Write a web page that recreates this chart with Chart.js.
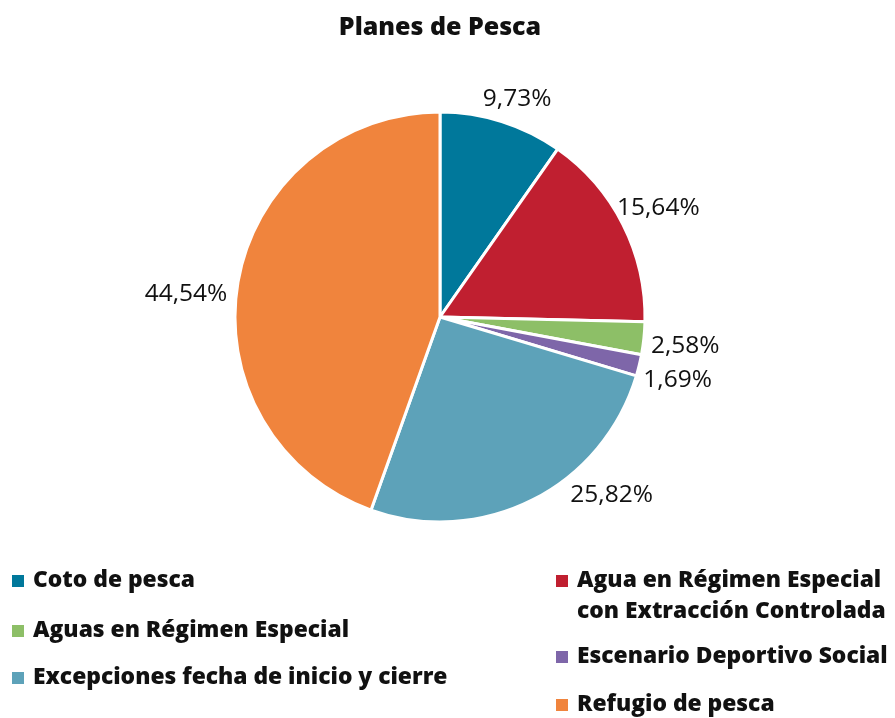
<!DOCTYPE html>
<html>
<head>
<meta charset="utf-8">
<script src="https://cdn.jsdelivr.net/npm/chart.js@4.4.1/dist/chart.umd.min.js"></script>
<style>
  html, body { margin: 0; padding: 0; background: #fff; }
  #wrap { width: 895px; height: 718px; position: relative; }
</style>
</head>
<body>
<div id="wrap"><canvas id="c" width="895" height="718"></canvas></div>
<script>
// Planes de Pesca: share of each fishing plan type (%)
const categories = [
  'Coto de pesca',
  ['Agua en Régimen Especial', 'con Extracción Controlada'],
  'Aguas en Régimen Especial',
  'Escenario Deportivo Social',
  'Excepciones fecha de inicio y cierre',
  'Refugio de pesca'
];
const shares = [9.73, 15.64, 2.58, 1.69, 25.82, 44.54];
const sliceColors = ['#00789b', '#c01f30', '#8dbf67', '#7e66a9', '#5da2b9', '#f0843d'];

const FONT = '"Open Sans", "DejaVu Sans", sans-serif';

// Percent labels: angle shift (deg) from slice middle and distance beyond the rim
const labelPlacement = [
  { dAngle: 2.0,   dist: 26 },
  { dAngle: 0.3,   dist: 39 },
  { dAngle: 0.8,   dist: 42 },
  { dAngle: 1.3,   dist: 41 },
  { dAngle: -17.2, dist: 42 },
  { dAngle: -4.6,  dist: 50 }
];

// Legend slots: [x of marker, y of first text line]
const legendSlots = [
  [12, 581], [556, 581], [12, 631], [556, 657], [12, 678], [556, 705]
];

const fmt = v => v.toFixed(2).replace('.', ',') + '%';

const titlePlugin = {
  id: 'titleText',
  afterDraw(chart) {
    const ctx = chart.ctx;
    ctx.save();
    ctx.fillStyle = '#111';
    ctx.font = '800 25px ' + FONT;
    ctx.textAlign = 'center';
    ctx.textBaseline = 'middle';
    ctx.fillText('Planes de Pesca', 440, 28);
    ctx.restore();
  }
};

const sliceLabels = {
  id: 'sliceLabels',
  afterDatasetsDraw(chart) {
    const ctx = chart.ctx;
    const meta = chart.getDatasetMeta(0);
    const values = chart.data.datasets[0].data;
    ctx.save();
    ctx.fillStyle = '#111';
    ctx.font = '24.5px ' + FONT;
    ctx.textAlign = 'center';
    ctx.textBaseline = 'middle';
    meta.data.forEach((arc, i) => {
      const p = labelPlacement[i];
      const mid = (arc.startAngle + arc.endAngle) / 2 + p.dAngle * Math.PI / 180;
      const r = arc.outerRadius + p.dist;
      ctx.fillText(fmt(values[i]), arc.x + Math.cos(mid) * r, arc.y + Math.sin(mid) * r);
    });
    ctx.restore();
  }
};

const legendPlugin = {
  id: 'sideLegend',
  afterDraw(chart) {
    const ctx = chart.ctx;
    const colors = chart.data.datasets[0].backgroundColor;
    ctx.save();
    ctx.font = '800 22.8px ' + FONT;
    ctx.textBaseline = 'middle';
    ctx.textAlign = 'left';
    chart.data.labels.forEach((lab, i) => {
      const [x, y] = legendSlots[i];
      ctx.fillStyle = colors[i];
      ctx.fillRect(x, y - 6, 12, 12);
      ctx.fillStyle = '#111';
      const lines = Array.isArray(lab) ? lab : [lab];
      lines.forEach((ln, k) => ctx.fillText(ln, x + 21, y + k * 31));
    });
    ctx.restore();
  }
};

new Chart(document.getElementById('c'), {
  type: 'pie',
  data: {
    labels: categories,
    datasets: [{
      data: shares,
      backgroundColor: sliceColors,
      borderColor: '#ffffff',
      borderWidth: 3
    }]
  },
  options: {
    responsive: false,
    animation: false,
    radius: 205,
    layout: { padding: { top: 100, bottom: 184, left: 0, right: 15 } },
    plugins: {
      legend: { display: false },
      tooltip: { enabled: false },
      title: { display: false }
    }
  },
  plugins: [titlePlugin, sliceLabels, legendPlugin]
});
</script>
</body>
</html>
